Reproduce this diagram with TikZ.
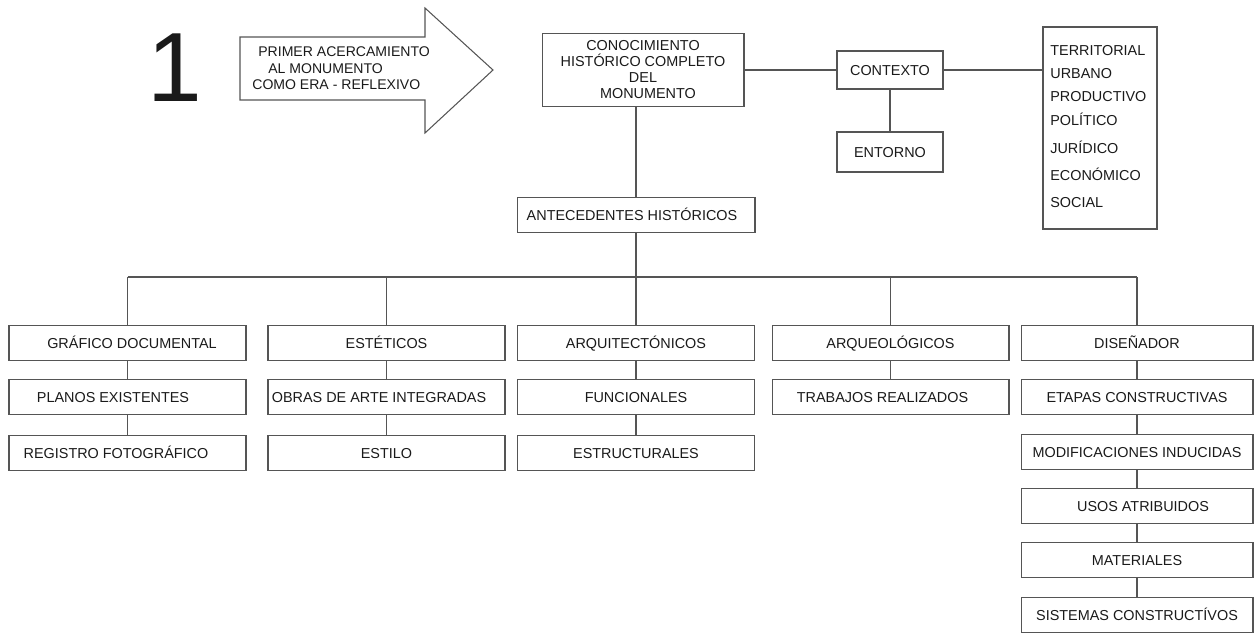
\documentclass[tikz,border=0pt]{standalone}
\usepackage{fontspec}
\setmainfont{Liberation Sans}

\begin{document}
\begin{tikzpicture}[x=0.02cm, y=-0.02cm,
  caja/.style={draw=linea, line width=0.6pt, minimum width=4.74cm, minimum height=0.71cm, inner sep=0pt, text=texto, font=\fontsize{8.2}{10}\selectfont, text height=5.9pt, text depth=0pt},
  cajader/.style={caja, minimum width=4.64cm},
  item/.style={anchor=west, inner sep=0pt, text=texto, font=\fontsize{8.2}{10}\selectfont, text height=5.9pt, text depth=0pt},
  enlace/.style={draw=linea, line width=0.6pt}]
\definecolor{linea}{HTML}{555555}
\definecolor{texto}{HTML}{1A1A1A}
\useasboundingbox (0,0) rectangle (1254,633);

\node[inner sep=0pt, text=texto, font=\fontsize{56}{60}\selectfont] (uno) at (175,68) {1};
\draw[enlace] (240,37) -- (425,37) -- (425,8) -- (493,70) -- (425,133) -- (425,100) -- (240,100) -- cycle;
\node[anchor=west, inner sep=0pt, align=left, text=texto, font=\fontsize{8}{9.4}\selectfont] (fle) at (252,68.5) {\hspace*{0.12cm}PRIMER ACERCAMIENTO\\\hspace*{0.32cm}AL MONUMENTO\\COMO ERA - REFLEXIVO};

\node[caja, minimum width=4.04cm, minimum height=1.46cm, align=center, text height=, text depth=, font=\fontsize{8.2}{9.1}\selectfont] (con) at (643,70) {CONOCIMIENTO\\HISTÓRICO COMPLETO\hspace*{0.2cm}\\DEL\\\hspace*{0.2cm}MONUMENTO};
\node[caja, minimum width=2.12cm, minimum height=0.76cm] (ctx) at (890,70) {CONTEXTO};
\node[caja, minimum width=2.12cm, minimum height=0.8cm] (ent) at (890,152) {ENTORNO};
\node[draw=linea, line width=0.6pt, minimum width=2.28cm, minimum height=4.04cm, inner sep=0pt] (lis) at (1100,128) {};
\node[item] (t1) at (1050,50) {TERRITORIAL};
\node[item] (t2) at (1050,73) {URBANO};
\node[item] (t3) at (1050,96) {PRODUCTIVO};
\node[item] (t4) at (1050,120) {POLÍTICO};
\node[item] (t5) at (1050,148) {JURÍDICO};
\node[item] (t6) at (1050,175) {ECONÓMICO};
\node[item] (t7) at (1050,202) {SOCIAL};

\node[caja, minimum width=4.76cm] (ante) at (636,215) {ANTECEDENTES HISTÓRICOS\hspace*{0.16cm}};
\coordinate (bus) at (636,277);

\node[caja] (gra) at (127.5,343) {\hspace*{0.18cm}GRÁFICO DOCUMENTAL};
\node[caja] (pla) at (127.5,397) {PLANOS EXISTENTES\hspace*{0.58cm}};
\node[caja] (reg) at (127.5,453) {REGISTRO FOTOGRÁFICO\hspace*{0.46cm}};

\node[caja] (est) at (386.5,343) {ESTÉTICOS};
\node[caja] (ob) at (386.5,397) {OBRAS DE ARTE INTEGRADAS\hspace*{0.3cm}};
\node[caja] (esl) at (386.5,453) {ESTILO};

\node[caja] (arq) at (636,343) {ARQUITECTÓNICOS};
\node[caja] (fun) at (636,397) {FUNCIONALES};
\node[caja] (estr) at (636,453) {ESTRUCTURALES};

\node[caja] (arqe) at (890.5,343) {ARQUEOLÓGICOS};
\node[caja] (tra) at (890.5,397) {TRABAJOS REALIZADOS\hspace*{0.32cm}};

\node[cajader] (dis) at (1137,343) {DISEÑADOR};
\node[cajader] (eta) at (1137,397) {ETAPAS CONSTRUCTIVAS};
\node[cajader] (mod) at (1137,452) {MODIFICACIONES INDUCIDAS};
\node[cajader] (uso) at (1137,506) {\hspace*{0.24cm}USOS ATRIBUIDOS};
\node[cajader] (mat) at (1137,560) {MATERIALES};
\node[cajader] (sis) at (1137,615) {SISTEMAS CONSTRUCTÍVOS};

\draw[enlace] (con.east) -- (ctx.west);
\draw[enlace] (ctx.east) -- (ctx.east -| lis.west);
\draw[enlace] (ctx.south) -- (ent.north);
\draw[enlace] (ante.north |- con.south) -- (ante.north);
\draw[enlace] (ante.south) -- (bus);
\draw[enlace] (gra.north |- bus) -- (dis.north |- bus);
\foreach \n in {gra,est,arq,arqe,dis}
  \draw[enlace] (\n.north |- bus) -- (\n.north);
\foreach \a/\b in {gra/pla,pla/reg,est/ob,ob/esl,arq/fun,fun/estr,arqe/tra,dis/eta,eta/mod,mod/uso,uso/mat,mat/sis}
  \draw[enlace] (\a.south) -- (\b.north);
\end{tikzpicture}
\end{document}
